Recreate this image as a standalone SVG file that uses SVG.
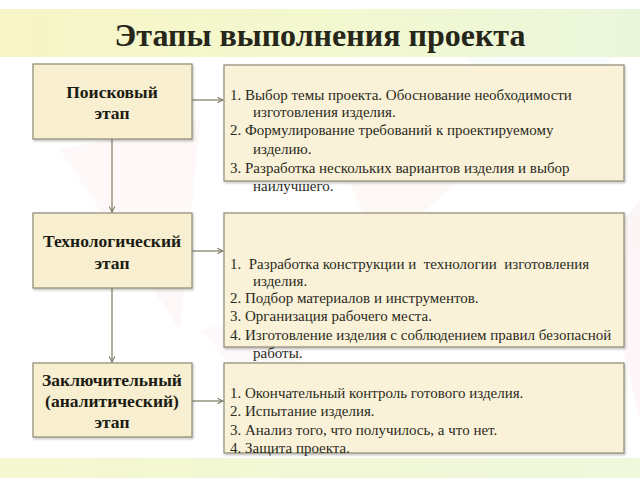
<svg xmlns="http://www.w3.org/2000/svg" width="640" height="480" viewBox="0 0 640 480">
<defs>
<linearGradient id="band" x1="0" y1="0" x2="1" y2="0">
<stop offset="0" stop-color="#f7f4c6"/>
<stop offset="0.5" stop-color="#f3f8cf"/>
<stop offset="1" stop-color="#eaf6dc"/>
</linearGradient>
<linearGradient id="bandb" x1="0" y1="0" x2="1" y2="0">
<stop offset="0" stop-color="#f5f7cf"/>
<stop offset="1" stop-color="#eef8dc"/>
</linearGradient>
<marker id="arr" viewBox="0 0 10 10" refX="9" refY="5" markerWidth="7" markerHeight="7" orient="auto" markerUnits="userSpaceOnUse">
<path d="M1,1 L9,5 L1,9" fill="none" stroke="#7c7a62" stroke-width="1.5"/>
</marker>
<filter id="sh" x="-5%" y="-5%" width="110%" height="115%">
<feDropShadow dx="1" dy="1.5" stdDeviation="1" flood-color="#000" flood-opacity="0.25"/>
</filter>
</defs>
<style>
.stage{fill:#f7efcf;stroke:#8c8a74;stroke-width:1.2}
.info{fill:#faf2d8;stroke:#8c8a74;stroke-width:1.2}
.st{font-weight:bold;font-size:17.5px;fill:#1c1c14;text-anchor:middle}
.it{font-size:15px;fill:#2a2a22}
.title{font-weight:bold;font-size:32px;fill:#26261a;text-anchor:middle}
.con{stroke:#7c7a62;stroke-width:1.2;fill:none}
</style>
<rect width="640" height="480" fill="#ffffff"/>
<g opacity="0.25">
<polygon points="60,150 200,120 180,330" fill="#fbe3e3"/>
<polygon points="330,140 460,180 380,250" fill="#fde8e0"/>
<polygon points="430,20 620,40 560,160" fill="#e8f0f8"/>
<polygon points="200,330 320,300 280,420" fill="#fbe6ea"/>
<polygon points="600,250 640,200 640,420" fill="#f6d9de"/>
</g>
<rect x="0" y="9" width="640" height="48" fill="url(#band)"/>
<rect x="0" y="458" width="640" height="20" fill="url(#bandb)"/>
<text class="title" font-family="'Liberation Serif', 'DejaVu Serif', serif" x="320" y="46">Этапы выполнения проекта</text>

<g id="connectors">
<line class="con" x1="192" y1="100" x2="223" y2="100" marker-end="url(#arr)"/>
<line class="con" x1="192" y1="251" x2="223" y2="251" marker-end="url(#arr)"/>
<line class="con" x1="192" y1="401" x2="223" y2="401" marker-end="url(#arr)"/>
<line class="con" x1="112" y1="139" x2="112" y2="212" marker-end="url(#arr)"/>
<line class="con" x1="112" y1="288" x2="112" y2="362" marker-end="url(#arr)"/>
</g>

<g id="stage1" font-family="'Liberation Serif', 'DejaVu Serif', serif">
<rect class="stage" x="33" y="64" width="159" height="75" filter="url(#sh)"/>
<text class="st" x="112" y="98">Поисковый</text>
<text class="st" x="112" y="119">этап</text>
</g>
<g id="stage2" font-family="'Liberation Serif', 'DejaVu Serif', serif">
<rect class="stage" x="33" y="213" width="159" height="75" filter="url(#sh)"/>
<text class="st" x="112" y="247">Технологический</text>
<text class="st" x="112" y="269">этап</text>
</g>
<g id="stage3" font-family="'Liberation Serif', 'DejaVu Serif', serif">
<rect class="stage" x="33" y="363" width="159" height="74" filter="url(#sh)"/>
<text class="st" x="112" y="386">Заключительный</text>
<text class="st" x="112" y="407">(аналитический)</text>
<text class="st" x="112" y="428">этап</text>
</g>

<g id="info1" font-family="'Liberation Serif', 'DejaVu Serif', serif">
<rect class="info" x="224" y="65" width="400" height="116" filter="url(#sh)"/>
<text class="it" x="230" y="100">1. Выбор темы проекта. Обоснование необходимости</text>
<text class="it" x="253" y="117">изготовления изделия.</text>
<text class="it" x="230" y="135">2. Формулирование требований к проектируемому</text>
<text class="it" x="253" y="154">изделию.</text>
<text class="it" x="230" y="173">3. Разработка нескольких вариантов изделия и выбор</text>
<text class="it" x="253" y="191">наилучшего.</text>
</g>
<g id="info2" font-family="'Liberation Serif', 'DejaVu Serif', serif">
<rect class="info" x="224" y="213" width="400" height="134" filter="url(#sh)"/>
<text class="it" x="230" y="269" xml:space="preserve">1.  Разработка конструкции и  технологии  изготовления</text>
<text class="it" x="253" y="286">изделия.</text>
<text class="it" x="230" y="303">2. Подбор материалов и инструментов.</text>
<text class="it" x="230" y="321">3. Организация рабочего места.</text>
<text class="it" x="230" y="340">4. Изготовление изделия с соблюдением правил безопасной</text>
<text class="it" x="253" y="358">работы.</text>
</g>
<g id="info3" font-family="'Liberation Serif', 'DejaVu Serif', serif">
<rect class="info" x="224" y="363" width="400" height="90" filter="url(#sh)"/>
<text class="it" x="230" y="398">1. Окончательный контроль готового изделия.</text>
<text class="it" x="230" y="416">2. Испытание изделия.</text>
<text class="it" x="230" y="435">3. Анализ того, что получилось, а что нет.</text>
<text class="it" x="230" y="453">4. Защита проекта.</text>
</g>
</svg>
